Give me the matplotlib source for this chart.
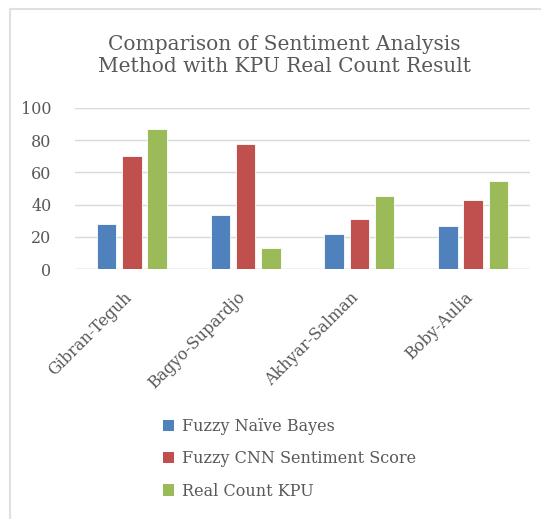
import matplotlib
matplotlib.use("Agg")
import matplotlib.pyplot as plt
import numpy as np
from matplotlib.lines import Line2D
from matplotlib.patches import Patch
from matplotlib.transforms import ScaledTranslation

categories = ["Gibran-Teguh", "Bagyo-Supardjo", "Akhyar-Salman", "Boby-Aulia"]
fuzzy_nb = [27.8, 33.4, 21.6, 26.8]
fuzzy_cnn = [69.9, 77.3, 31.3, 42.9]
real_count = [86.6, 13.4, 45.2, 54.8]
series_names = ["Fuzzy Naïve Bayes", "Fuzzy CNN Sentiment Score", "Real Count KPU"]
colors = ["#4F81BD", "#C0504D", "#9BBB59"]
yticks = [0, 20, 40, 60, 80, 100]

plt.rcParams['font.family'] = ['DejaVu Serif']
txt = "#595959"

fig = plt.figure(figsize=(5.41, 5.19), dpi=100)
ax = fig.add_axes([0.1386, 0.4811, 0.8411, 0.3114])

x = np.arange(len(categories))
w = 0.173
pitch = 0.222
for i, (vals, c) in enumerate(zip([fuzzy_nb, fuzzy_cnn, real_count], colors)):
    ax.bar(x + (i - 1) * pitch, vals, width=w, color=c, edgecolor="white", linewidth=0.6, zorder=3)

ax.set_xlim(-0.5, len(categories) - 0.5)
ax.set_ylim(0, 100)
ax.set_yticks(yticks)
ax.set_yticklabels([str(t) for t in yticks], fontsize=11.5, color=txt)
ax.yaxis.grid(True, color="#D9D9D9", linewidth=1, zorder=0)
ax.tick_params(axis='y', length=0, pad=17)
ax.tick_params(axis='x', length=0, pad=14)
ax.set_xticks(x)
ax.set_xticklabels(categories, rotation=45, ha='right', rotation_mode='anchor', fontsize=11.5, color=txt)
off = ScaledTranslation(-0.09, 0, fig.dpi_scale_trans)
for lab in ax.get_xticklabels():
    lab.set_transform(lab.get_transform() + off)
for s in ax.spines.values():
    s.set_visible(False)
ax.axhline(0, color="#D9D9D9", linewidth=1, zorder=2)

fig.text(0.526, 0.894, "Comparison of Sentiment Analysis\nMethod with KPU Real Count Result",
         ha='center', va='center', fontsize=14.5, color=txt, linespacing=1.2)

handles = [Patch(facecolor=c, edgecolor='none') for c in colors]
leg = fig.legend(handles, series_names, loc='upper left', bbox_to_anchor=(0.301, 0.194),
                 frameon=False, fontsize=11.5, labelcolor=txt, handlelength=0.7, handleheight=0.7,
                 labelspacing=0.95, handletextpad=0.5, borderpad=0, borderaxespad=0)

# chart border
fig.add_artist(Line2D([10/541, 10/541], [0, 1 - 9/519], transform=fig.transFigure, color="#E0E0E0", linewidth=1.5))
fig.add_artist(Line2D([10/541, 1], [1 - 9/519, 1 - 9/519], transform=fig.transFigure, color="#E0E0E0", linewidth=1.5))

fig.savefig("out.png", dpi=100)
